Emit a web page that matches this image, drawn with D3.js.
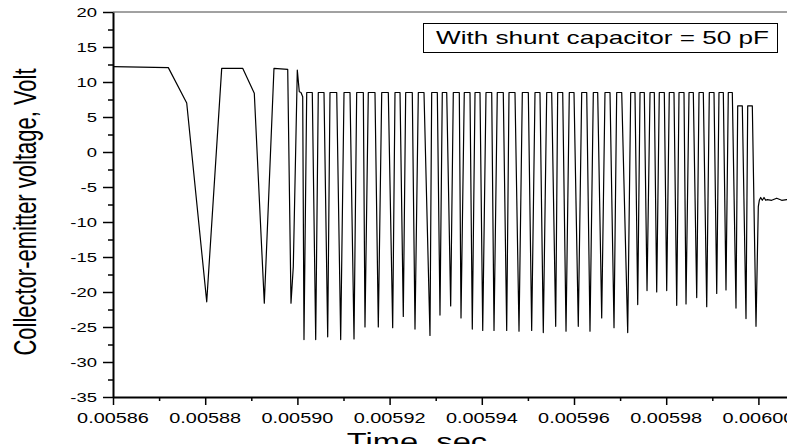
<!DOCTYPE html>
<html lang="en">
<head>
<meta charset="UTF-8">
<title>Collector-emitter voltage</title>
<script src="https://d3js.org/d3.v7.min.js"></script>
<style>
    body {
        margin: 0;
        background-color: #fff;
    }
    svg {
        display: block;
        font-family: "Liberation Sans", Arial, sans-serif;
    }
    .axis path, .axis line {
        stroke: #000;
    }
</style>
</head>
<body>
<script>
    const width = 787;
    const height = 444;

    // time, in microseconds
    const timeUs = [
        5860.00, 5872.00, 5875.99, 5880.33, 5883.58, 5888.13, 5890.65, 5892.82,
        5894.92, 5897.90, 5898.61, 5899.11, 5899.98, 5900.41, 5900.78, 5901.15, 5901.43,
        5902.02, 5903.23, 5903.97,
        5904.53, 5905.77, 5906.57,
        5907.07, 5908.53, 5909.39,
        5910.11, 5911.41, 5912.28,
        5912.86, 5914.30, 5914.66,
        5915.38, 5916.83, 5917.55,
        5918.29, 5919.72, 5920.67,
        5921.17, 5922.26, 5922.97,
        5923.49, 5924.92, 5925.51,
        5926.23, 5927.46, 5928.76,
        5929.13, 5930.35, 5930.93,
        5931.43, 5932.39, 5933.25,
        5933.82, 5935.12, 5935.49,
        5936.20, 5937.44, 5937.94,
        5938.53, 5939.61, 5940.20,
        5940.91, 5942.15, 5942.65,
        5943.36, 5944.66, 5945.40,
        5945.90, 5947.20, 5948.07,
        5948.79, 5950.09, 5950.82,
        5951.54, 5952.62, 5953.34,
        5954.08, 5955.16, 5956.03,
        5956.46, 5957.55, 5958.27,
        5958.98, 5960.00, 5960.93,
        5961.67, 5962.76, 5963.47,
        5964.19, 5965.14, 5966.01,
        5966.72, 5967.81, 5968.68,
        5969.26, 5970.35, 5971.65,
        5972.30, 5973.23, 5973.82,
        5974.32, 5975.25, 5975.84,
        5976.49, 5977.42, 5977.94,
        5978.50, 5979.59, 5980.11,
        5980.67, 5981.69, 5982.28,
        5982.78, 5983.86, 5984.30,
        5984.95, 5985.88, 5986.62,
        5987.12, 5988.05, 5988.79,
        5989.35, 5990.37, 5990.96,
        5991.45, 5992.39, 5992.97,
        5993.47, 5994.34, 5995.14,
        5995.51, 5996.51, 5997.31,
        5997.68, 5998.68, 5999.48,
        5999.98, 6000.20, 6000.50, 6000.85, 6001.22, 6001.58,
        6001.93, 6002.88, 6003.97, 6005.05, 6006.14, 6007.94
    ];

    // collector-emitter voltage, Volt
    const volt = [
        12.2, 12.05, 7.0, -21.4, 11.95, 11.95, 8.4, -21.6,
        11.95, 11.8, -21.6, -16.4, 11.7, 8.6, 8.5, 7.9, -26.8,
        8.5, 8.5, -26.8,
        8.5, 8.5, -26.4,
        8.5, 8.5, -26.8,
        8.5, 8.5, -26.7,
        8.5, 8.5, -25.0,
        8.5, 8.5, -25.0,
        8.5, 8.5, -25.1,
        8.5, 8.5, -23.5,
        8.5, 8.5, -25.3,
        8.5, 8.5, -26.2,
        8.5, 8.5, -23.3,
        8.5, 8.5, -22.0,
        8.5, 8.5, -23.7,
        8.5, 8.5, -25.3,
        8.5, 8.5, -25.5,
        8.5, 8.5, -25.5,
        8.5, 8.5, -25.5,
        8.5, 8.5, -25.6,
        8.5, 8.5, -25.5,
        8.5, 8.5, -25.8,
        8.5, 8.5, -24.9,
        8.5, 8.5, -25.6,
        8.5, 8.5, -24.9,
        8.5, 8.5, -25.6,
        8.5, 8.5, -23.7,
        8.5, 8.5, -25.1,
        8.5, 8.5, -25.8,
        8.5, 8.5, -21.8,
        8.5, 8.5, -19.8,
        8.5, 8.5, -20.0,
        8.5, 8.5, -19.8,
        8.5, 8.5, -21.9,
        8.5, 8.5, -21.7,
        8.5, 8.5, -20.8,
        8.5, 8.5, -22.1,
        8.5, 8.5, -20.2,
        8.5, 8.5, -19.7,
        8.5, 8.5, -22.3,
        6.6, 6.6, -23.8,
        6.6, 6.6, -24.9,
        -7.8, -6.9, -6.5, -6.9, -6.5, -6.9,
        -6.8, -6.9, -6.6, -6.9, -6.8, -6.8
    ];

    const xTicks = [0.00586, 0.00588, 0.00590, 0.00592, 0.00594, 0.00596, 0.00598, 0.00600];
    const xMinor = [0.00587, 0.00589, 0.00591, 0.00593, 0.00595, 0.00597, 0.00599];
    const yTicks = [-35, -30, -25, -20, -15, -10, -5, 0, 5, 10, 15, 20];
    const yMinor = [-32.5, -27.5, -22.5, -17.5, -12.5, -7.5, -2.5, 2.5, 7.5, 12.5, 17.5];

    const legendText = "With shunt capacitor = 50 pF";
    const xTitle = "Time, sec";
    const yTitle = "Collector-emitter voltage, Volt";

    // the text in the picture is stretched sideways
    const SX = 1.42;

    const svg = d3.select("body").append("svg")
        .attr("width", width)
        .attr("height", height);

    const x = d3.scaleLinear().domain([0.00586, 0.00601]).range([113, 804.5]);
    const y = d3.scaleLinear().domain([-35, 20]).range([397, 12]);

    // top frame line
    svg.append("line")
        .attr("x1", x.range()[0])
        .attr("x2", x.range()[1])
        .attr("y1", y(20))
        .attr("y2", y(20))
        .attr("stroke", "#444")
        .attr("stroke-width", 1);

    // trace
    const line = d3.line()
        .x((d, i) => x(timeUs[i] * 1e-6))
        .y(d => y(d));

    svg.append("path")
        .datum(volt)
        .attr("d", line)
        .attr("fill", "none")
        .attr("stroke", "#000")
        .attr("stroke-width", 1.2)
        .attr("stroke-linejoin", "round");

    // axes
    const noLabel = () => "";

    svg.append("g")
        .attr("class", "axis")
        .attr("transform", `translate(0,${y(-35)})`)
        .call(d3.axisBottom(x).tickValues(xMinor).tickSize(4).tickSizeOuter(0).tickFormat(noLabel))
        .call(g => g.select(".domain").remove())
        .call(g => g.selectAll("line").attr("stroke-width", 1.5));

    svg.append("g")
        .attr("class", "axis")
        .attr("transform", `translate(0,${y(-35)})`)
        .call(d3.axisBottom(x).tickValues(xTicks).tickSize(8).tickSizeOuter(0).tickFormat(noLabel))
        .call(g => g.select(".domain").attr("stroke-width", 2))
        .call(g => g.selectAll("line").attr("stroke-width", 1.5));

    svg.append("g")
        .attr("class", "axis")
        .attr("transform", `translate(${x(0.00586)},0)`)
        .call(d3.axisLeft(y).tickValues(yMinor).tickSize(5).tickSizeOuter(0).tickFormat(noLabel))
        .call(g => g.select(".domain").remove())
        .call(g => g.selectAll("line").attr("stroke-width", 1.5));

    svg.append("g")
        .attr("class", "axis")
        .attr("transform", `translate(${x(0.00586)},0)`)
        .call(d3.axisLeft(y).tickValues(yTicks).tickSize(10).tickSizeOuter(0).tickFormat(noLabel))
        .call(g => g.select(".domain").attr("stroke-width", 2))
        .call(g => g.selectAll("line").attr("stroke-width", 1.5));

    // tick labels
    svg.append("g").selectAll("text")
        .data(xTicks)
        .join("text")
        .attr("transform", d => `translate(${x(d)},423) scale(${SX},1)`)
        .attr("text-anchor", "middle")
        .attr("font-size", 14)
        .text(d => d.toFixed(5));

    svg.append("g").selectAll("text")
        .data(yTicks)
        .join("text")
        .attr("transform", d => `translate(97,${y(d)}) scale(${SX},1)`)
        .attr("text-anchor", "end")
        .attr("dy", "0.36em")
        .attr("font-size", 13)
        .text(d => String(d));

    // axis titles
    svg.append("text")
        .attr("transform", `translate(36,212) scale(${SX},1) rotate(-90)`)
        .attr("text-anchor", "middle")
        .attr("font-size", 22)
        .text(yTitle);

    svg.append("text")
        .attr("transform", `translate(417,450) scale(${SX},1)`)
        .attr("text-anchor", "middle")
        .attr("font-size", 23)
        .text(xTitle);

    // legend box
    svg.append("rect")
        .attr("x", 423.5)
        .attr("y", 23.5)
        .attr("width", 354)
        .attr("height", 29)
        .attr("fill", "#fff")
        .attr("stroke", "#000")
        .attr("stroke-width", 1);

    svg.append("text")
        .attr("transform", `translate(436,44) scale(${SX},1)`)
        .attr("font-size", 18.4)
        .text(legendText);
</script>
</body>
</html>
